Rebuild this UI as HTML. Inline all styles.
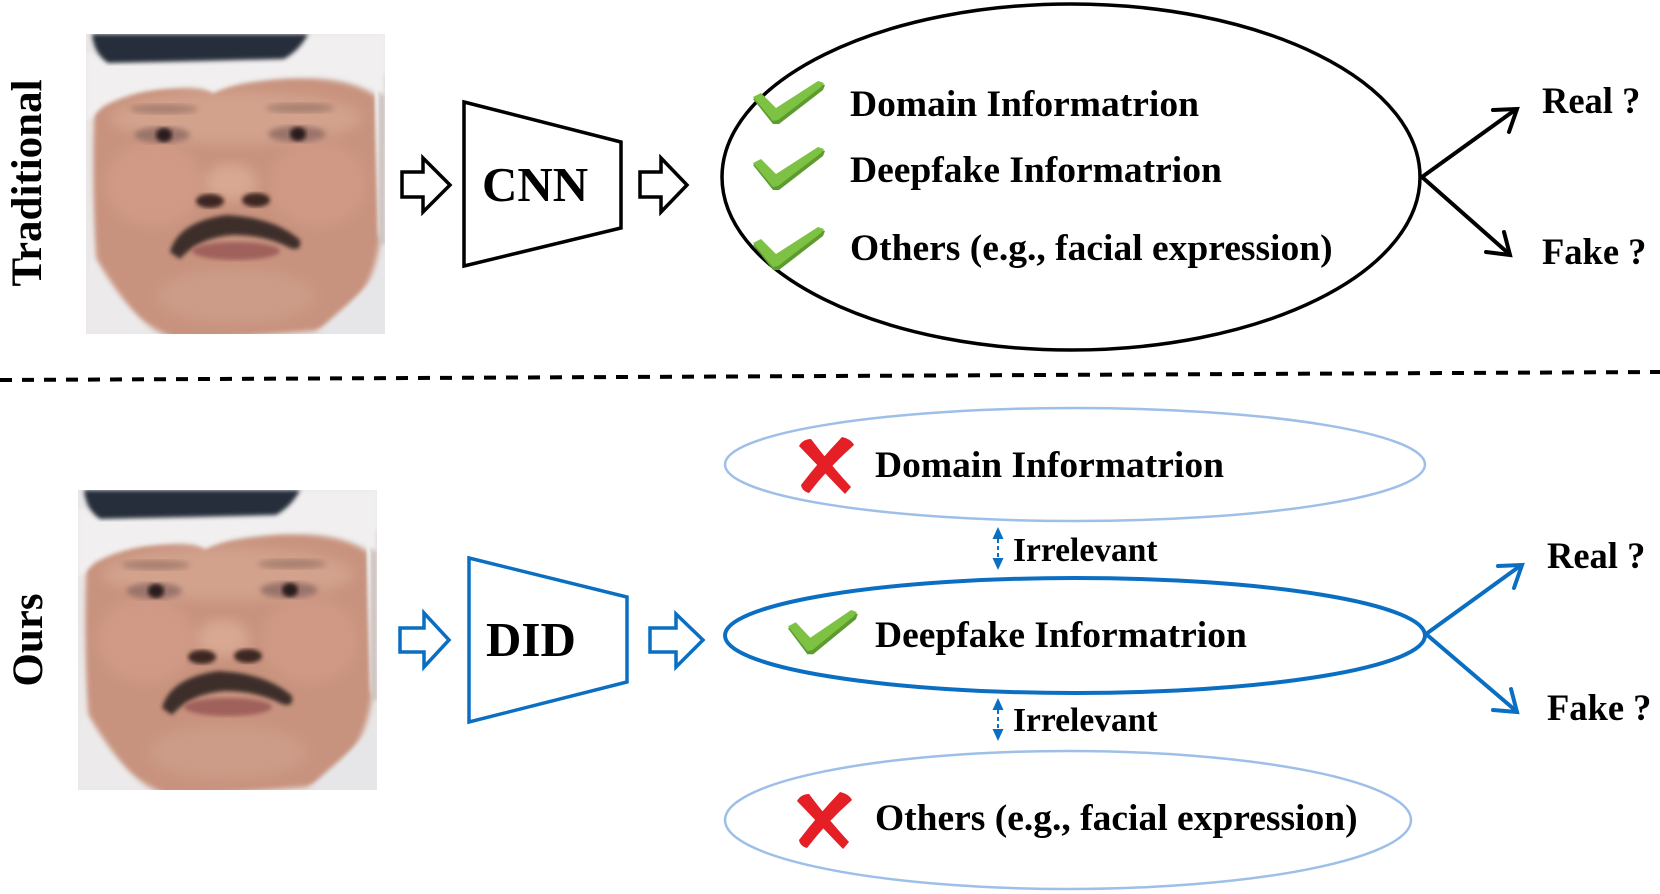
<!DOCTYPE html>
<html>
<head>
<meta charset="utf-8">
<style>
  html,body{margin:0;padding:0;background:#fff;}
  body{width:1660px;height:894px;overflow:hidden;}
  svg{display:block;}
  text{font-family:"Liberation Serif","Times New Roman",serif;font-weight:bold;fill:#000;}
</style>
</head>
<body>
<svg width="1660" height="894" viewBox="0 0 1660 894" xmlns="http://www.w3.org/2000/svg">
  <defs>
    <filter id="blur3" x="-10%" y="-10%" width="120%" height="120%"><feGaussianBlur stdDeviation="3"/></filter>
    <filter id="blur2" x="-10%" y="-10%" width="120%" height="120%"><feGaussianBlur stdDeviation="2"/></filter>
    <filter id="blur6" x="-20%" y="-20%" width="140%" height="140%"><feGaussianBlur stdDeviation="6"/></filter>
    <clipPath id="faceclip"><rect x="0" y="0" width="299" height="300"/></clipPath>
    <g id="face">
      <g clip-path="url(#faceclip)">
        <rect x="0" y="0" width="299" height="300" fill="#e8e6e6"/>
        <!-- skin -->
        <path d="M4,78 Q18,55 60,54 Q100,52 127,57 Q150,48 200,44 Q262,42 290,62 L294,205 Q288,262 242,296 L95,308 Q30,282 6,222 Z" fill="#c8937e" filter="url(#blur3)"/>
        <ellipse cx="150" cy="84" rx="125" ry="26" fill="#d2a28d" filter="url(#blur6)"/>
        <ellipse cx="68" cy="150" rx="48" ry="42" fill="#d09a86" filter="url(#blur6)"/>
        <ellipse cx="232" cy="150" rx="48" ry="42" fill="#cf9985" filter="url(#blur6)"/>
        <ellipse cx="150" cy="262" rx="78" ry="26" fill="#cc9c88" filter="url(#blur6)"/>
        <!-- side whites -->
        <path d="M0,70 L8,76 Q4,150 10,225 Q36,268 66,300 L0,300 Z" fill="#eceaea" filter="url(#blur3)"/>
        <path d="M289,0 L299,0 L299,205 L293,200 Q291,120 289,60 Z" fill="#eeeded" filter="url(#blur2)"/>
        <rect x="293" y="40" width="6" height="170" fill="#cbbfbb" filter="url(#blur2)"/>
        <path d="M299,236 L262,270 L228,300 L299,300 Z" fill="#e6e6e9" filter="url(#blur2)"/>
        <!-- cloth -->
        <path d="M0,18 Q60,30 120,28 Q180,25 228,0 L299,0 L299,62 Q272,44 232,42 Q182,42 152,49 Q136,54 127,59 Q114,49 90,53 Q48,56 18,72 L0,88 Z" fill="#f1efef" filter="url(#blur2)"/>
        <!-- dark band -->
        <path d="M6,0 L222,0 Q214,16 198,25 L22,29 Q8,20 6,0 Z" fill="#272e3b" filter="url(#blur2)"/>
        <!-- brows -->
        <ellipse cx="78" cy="75" rx="34" ry="5" fill="#6d4f47" opacity="0.4" filter="url(#blur3)"/>
        <ellipse cx="214" cy="74" rx="34" ry="5" fill="#6d4f47" opacity="0.4" filter="url(#blur3)"/>
        <!-- eyes -->
        <ellipse cx="76" cy="101" rx="28" ry="8" fill="#9a736b" filter="url(#blur3)"/>
        <ellipse cx="211" cy="100" rx="29" ry="8" fill="#9a736b" filter="url(#blur3)"/>
        <ellipse cx="78" cy="101" rx="8" ry="7" fill="#2b1e1f" filter="url(#blur2)"/>
        <ellipse cx="212" cy="100" rx="8" ry="7" fill="#2b1e1f" filter="url(#blur2)"/>
        <!-- nose -->
        <ellipse cx="145" cy="148" rx="26" ry="18" fill="#d8a893" filter="url(#blur6)"/>
        <ellipse cx="124" cy="167" rx="14" ry="7" fill="#3e2622" filter="url(#blur2)"/>
        <ellipse cx="170" cy="166" rx="14" ry="7" fill="#3e2622" filter="url(#blur2)"/>
        <!-- mustache -->
        <path d="M84,218 Q92,188 140,181 Q188,183 214,206 Q216,218 204,214 Q180,201 146,201 Q112,204 94,225 Z" fill="#3d2e2b" filter="url(#blur2)"/>
        <!-- lips -->
        <ellipse cx="150" cy="217" rx="44" ry="9" fill="#a0605b" filter="url(#blur2)"/>
      </g>
    </g>
    <g id="check">
      <path d="M0,16 L8,12 L24,28 L65,0 L72,2 L70,7 L26,41 L20,41 Z" fill="#5d9b2f"/>
      <path d="M0,14 L8,10 L23,25 L65,-2 L71,0 L68,4 L25,37 L20,38 Z" fill="#7dc243"/>
    </g>
    <g id="xmark">
      <path d="M0,9 Q4,2 12,2 Q30,26 52,50 L46,57 Q24,34 0,9 Z" fill="#e41f26"/>
      <path d="M43,0 Q52,2 55,8 Q30,30 10,56 Q3,54 2,48 Q22,22 43,0 Z" fill="#e41f26"/>
    </g>
  </defs>

  <!-- ===== Top section ===== -->
  <text transform="translate(41,183) rotate(-90)" text-anchor="middle" font-size="43">Traditional</text>
  <use href="#face" transform="translate(86,34)"/>

  <path d="M402,172 L423,172 L423,158 L450,185 L423,212 L423,197 L402,197 Z" fill="#fff" stroke="#000" stroke-width="3.5" stroke-linejoin="miter"/>
  <path d="M464,102 L621,142 L621,228 L464,266 Z" fill="#fff" stroke="#000" stroke-width="3.5"/>
  <text x="482" y="201" font-size="49">CNN</text>
  <path d="M640,172 L661,172 L661,158 L687,185 L661,212 L661,197 L640,197 Z" fill="#fff" stroke="#000" stroke-width="3.5" stroke-linejoin="miter"/>

  <ellipse cx="1071" cy="177" rx="349" ry="173" fill="none" stroke="#000" stroke-width="3.5"/>
  <use href="#check" transform="translate(753,83)"/>
  <use href="#check" transform="translate(753,149)"/>
  <use href="#check" transform="translate(753,229)"/>
  <text x="850" y="116" font-size="37.5">Domain Informatrion</text>
  <text x="850" y="182" font-size="37.5">Deepfake Informatrion</text>
  <text x="850" y="260" font-size="37.5">Others (e.g., facial expression)</text>

  <g stroke="#000" stroke-width="4" fill="none" stroke-linecap="round" stroke-linejoin="miter">
    <line x1="1422" y1="177" x2="1515" y2="110"/>
    <polyline points="1493,110 1517,109 1509,132"/>
    <line x1="1422" y1="177" x2="1508" y2="253"/>
    <polyline points="1504,232 1510,255 1486,252"/>
  </g>
  <text x="1542" y="113" font-size="36.5">Real ?</text>
  <text x="1542" y="264" font-size="36.5">Fake ?</text>

  <!-- dashed divider -->
  <line x1="0" y1="380" x2="1660" y2="372" stroke="#000" stroke-width="4" stroke-dasharray="12 10"/>

  <!-- ===== Bottom section ===== -->
  <text transform="translate(42,640) rotate(-90)" text-anchor="middle" font-size="43">Ours</text>
  <use href="#face" transform="translate(78,490)"/>

  <path d="M400,628 L424,628 L424,613 L449,640 L424,667 L424,652 L400,652 Z" fill="#fff" stroke="#0a6fc2" stroke-width="3.5" stroke-linejoin="miter"/>
  <path d="M469,558 L627,597 L627,682 L469,722 Z" fill="#fff" stroke="#0a6fc2" stroke-width="3.5"/>
  <text x="486" y="656" font-size="49">DID</text>
  <path d="M650,628 L676,628 L676,614 L703,640 L676,667 L676,652 L650,652 Z" fill="#fff" stroke="#0a6fc2" stroke-width="3.5" stroke-linejoin="miter"/>

  <ellipse cx="1075" cy="464.5" rx="350" ry="56.5" fill="none" stroke="#9dbfe8" stroke-width="2.5"/>
  <ellipse cx="1075" cy="635.5" rx="350" ry="57.5" fill="none" stroke="#0a6fc2" stroke-width="4"/>
  <ellipse cx="1068" cy="820" rx="343" ry="69" fill="none" stroke="#9dbfe8" stroke-width="2.5"/>

  <use href="#xmark" transform="translate(799,437)"/>
  <use href="#xmark" transform="translate(797,792)"/>
  <use href="#check" transform="translate(788,612) scale(0.97,1.03)"/>

  <text x="875" y="477" font-size="37.5">Domain Informatrion</text>
  <text x="875" y="647" font-size="37.5">Deepfake Informatrion</text>
  <text x="875" y="830" font-size="37.5">Others (e.g., facial expression)</text>

  <!-- small dashed double arrows -->
  <g fill="#0a6fc2">
    <polygon points="998,527 992.5,539 1003.5,539"/>
    <polygon points="998,570 992.5,558 1003.5,558"/>
    <polygon points="998,698 992.5,710 1003.5,710"/>
    <polygon points="998,741 992.5,729 1003.5,729"/>
  </g>
  <g stroke="#0a6fc2" stroke-width="2" stroke-dasharray="4 3">
    <line x1="998" y1="539" x2="998" y2="558"/>
    <line x1="998" y1="710" x2="998" y2="729"/>
  </g>
  <text x="1013" y="561" font-size="33.5">Irrelevant</text>
  <text x="1013" y="731" font-size="33.5">Irrelevant</text>

  <g stroke="#0a6fc2" stroke-width="4" fill="none" stroke-linecap="round" stroke-linejoin="miter">
    <line x1="1426" y1="634" x2="1520" y2="566"/>
    <polyline points="1498,566 1522,565 1514,588"/>
    <line x1="1426" y1="634" x2="1515" y2="710"/>
    <polyline points="1511,689 1517,712 1493,710"/>
  </g>
  <text x="1547" y="568" font-size="36.5">Real ?</text>
  <text x="1547" y="720" font-size="36.5">Fake ?</text>
</svg>
</body>
</html>
